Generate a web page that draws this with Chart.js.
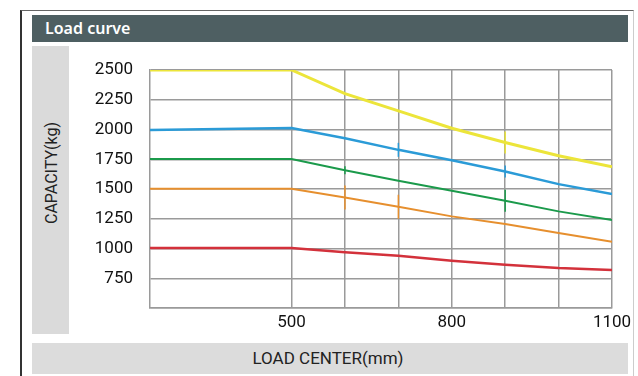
<!DOCTYPE html>
<html>
<head>
<meta charset="utf-8">
<script src="https://cdn.jsdelivr.net/npm/chart.js@4"></script>
<style>
  body { margin: 0; width: 638px; height: 376px; background: #fff; overflow: hidden; position: relative; font-family: Roboto, sans-serif; }
  .frame { position: absolute; left: 20px; top: 10px; width: 611px; height: 380px; border-left: 2px solid #333; border-top: 1px solid #666; border-right: 1px solid #ccc; }
  .titlebar { position: absolute; left: 32px; top: 15px; width: 596px; height: 27px; background: #4e5f62; color: #fff; font: 600 16px "Noto Sans", sans-serif; line-height: 27px; padding-left: 13px; box-sizing: border-box; }
  .ypanel { position: absolute; left: 32px; top: 46px; width: 37px; height: 288px; background: #dadada; }
  .ypanel span { position: absolute; left: 50%; top: 127px; transform: translate(-50%, -50%) rotate(-90deg); white-space: nowrap; font-size: 16px; color: #222; }
  .xpanel { position: absolute; left: 32px; top: 343px; width: 596px; height: 31px; background: #dcdcdc; }
  .xpanel span { position: absolute; left: 296px; top: 15px; transform: translate(-50%, -50%); white-space: nowrap; font-size: 17px; color: #222; }
  canvas { position: absolute; left: 0; top: 0; }
</style>
</head>
<body>
<div class="frame"></div>
<div class="titlebar">Load curve</div>
<div class="ypanel"><span>CAPACITY(kg)</span></div>
<div class="xpanel"><span>LOAD CENTER(mm)</span></div>
<canvas id="chart" width="638" height="376"></canvas>
<script>
// load center (mm), first point is the left edge of the plot
const loadCenter = [235, 500, 600, 700, 800, 900, 1000, 1100];
const xGrid = [500, 600, 700, 800, 900, 1000, 1100];
const xLabels = [500, 800, 1100];

// capacity (kg) for each curve
const cap2500 = [2500, 2500, 2302, 2156, 2011, 1891, 1779, 1686];
const cap2000 = [1995, 2012, 1927, 1829, 1742, 1647, 1541, 1457];
const cap1750 = [1752, 1752, 1658, 1569, 1485, 1401, 1312, 1239];
const cap1500 = [1502, 1502, 1429, 1351, 1270, 1205, 1130, 1057];
const cap1000 = [1005, 1005, 968, 939, 897, 864, 836, 819];

function pts(values) {
    return values.map((v, i) => ({ x: loadCenter[i], y: v }));
}

function curve(values, color, width, marks) {
    return {
        data: pts(values),
        borderColor: color,
        backgroundColor: color,
        borderWidth: width,
        tension: 0,
        pointStyle: 'line',
        rotation: 90,
        pointRadius: marks,
        pointBorderWidth: 1.5,
        pointBorderColor: color
    };
}

const gridColor = '#9a9a9a';
const tickFont = { family: 'Roboto', size: 17 };

new Chart(document.getElementById('chart'), {
    type: 'line',
    data: {
        datasets: [
            curve(cap2500, '#ece53a', 3, [0, 0, 0, 0, 0, 11, 0, 0]),
            curve(cap2000, '#2b9bd7', 2.5, [0, 0, 0, 7, 0, 6, 0, 0]),
            curve(cap1750, '#1b9a4b', 2, [0, 0, 4, 0, 0, 11, 0, 0]),
            curve(cap1500, '#e68f2e', 2, [0, 0, 12, 12, 0, 0, 0, 0]),
            curve(cap1000, '#d3313b', 2.5, [0, 0, 0, 0, 0, 0, 0, 0])
        ]
    },
    options: {
        responsive: false,
        animation: false,
        devicePixelRatio: 1,
        layout: { padding: { top: 70, right: 26, bottom: 0, left: 0 } },
        plugins: { legend: { display: false }, tooltip: { enabled: false } },
        scales: {
            x: {
                type: 'linear',
                min: 235,
                max: 1100,
                afterBuildTicks: scale => { scale.ticks = xGrid.map(v => ({ value: v })); },
                afterFit: scale => { scale.height = 68; },
                grid: { color: gridColor, lineWidth: 1.5, drawTicks: false },
                border: { color: gridColor, width: 1.5 },
                ticks: {
                    padding: 5,
                    color: '#111',
                    font: tickFont,
                    autoSkip: false,
                    maxRotation: 0,
                    callback: v => xLabels.includes(v) ? String(v) : ''
                }
            },
            y: {
                min: 500,
                max: 2500,
                afterFit: scale => { scale.width = 150; },
                grid: { color: gridColor, lineWidth: 1.5, drawTicks: false },
                border: { color: gridColor, width: 1.5 },
                ticks: {
                    stepSize: 250,
                    padding: 17,
                    color: '#111',
                    font: tickFont,
                    callback: v => v === 500 ? '' : String(v)
                }
            }
        }
    }
});
</script>
</body>
</html>
